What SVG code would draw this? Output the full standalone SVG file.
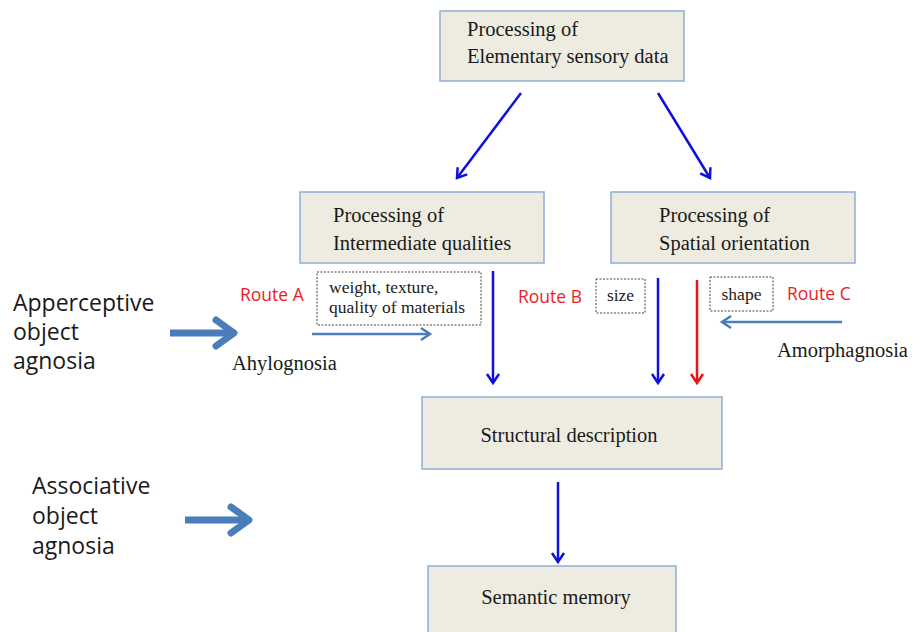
<svg xmlns="http://www.w3.org/2000/svg" width="914" height="632" viewBox="0 0 914 632">
<style>
.box{fill:#eeece1;stroke:#8eaed8;stroke-width:1.5}
.bt{font-family:"Liberation Serif","Times New Roman",serif;font-size:20.5px;fill:#1a1a1a}
.st{font-family:"Liberation Serif","Times New Roman",serif;font-size:20.5px;fill:#1a1a1a}
.sm{font-family:"Liberation Serif","Times New Roman",serif;font-size:17.5px;fill:#1a1a1a}
.big{font-family:"Open Sans","Liberation Sans",Arial,sans-serif;font-size:23px;fill:#1a1a1a}
.route{font-family:"Open Sans","Liberation Sans",Arial,sans-serif;font-size:17.5px;fill:#ee1c25}
.dash{fill:#ffffff;stroke:#444;stroke-width:1;stroke-dasharray:2 1.5}
.blue{stroke:#1010dd;stroke-width:2.5;fill:none}
.red{stroke:#ee1111;stroke-width:2.5;fill:none}
.steel{stroke:#4a7ebb;stroke-width:2.5;fill:none}
.thick{stroke:#4a7ebb;stroke-width:7;fill:none}
</style>
<defs>
<marker id="hb" markerUnits="userSpaceOnUse" markerWidth="16" markerHeight="16" refX="12" refY="8" orient="auto" viewBox="0 0 16 16">
<path d="M3,2 L12,8 L3,14" fill="none" stroke="#1010dd" stroke-width="2.5"/>
</marker>
<marker id="hr" markerUnits="userSpaceOnUse" markerWidth="16" markerHeight="16" refX="12" refY="8" orient="auto" viewBox="0 0 16 16">
<path d="M3,2 L12,8 L3,14" fill="none" stroke="#ee1111" stroke-width="2.5"/>
</marker>
<marker id="hs" markerUnits="userSpaceOnUse" markerWidth="16" markerHeight="16" refX="12" refY="8" orient="auto" viewBox="0 0 16 16">
<path d="M3,2 L12,8 L3,14" fill="none" stroke="#4a7ebb" stroke-width="2.5"/>
</marker>
<marker id="ht" markerUnits="userSpaceOnUse" markerWidth="34" markerHeight="34" refX="26" refY="17" orient="auto" viewBox="0 0 34 34">
<path d="M7,4 L25,17 L7,30" fill="none" stroke="#4a7ebb" stroke-width="7" stroke-linecap="round" stroke-linejoin="round"/>
</marker>
</defs>

<g id="connectors">
<line class="blue" x1="521" y1="93" x2="457" y2="178" marker-end="url(#hb)"/>
<line class="blue" x1="658" y1="93" x2="710" y2="178" marker-end="url(#hb)"/>
<line class="blue" x1="493" y1="271" x2="493" y2="383" marker-end="url(#hb)"/>
<line class="blue" x1="658" y1="278" x2="658" y2="383" marker-end="url(#hb)"/>
<line class="red" x1="697" y1="280" x2="697" y2="383" marker-end="url(#hr)"/>
<line class="blue" x1="558" y1="482" x2="558" y2="562" marker-end="url(#hb)"/>
<line class="steel" x1="312" y1="334" x2="430" y2="334" marker-end="url(#hs)"/>
<line class="steel" x1="842" y1="322" x2="722" y2="322" marker-end="url(#hs)"/>
<line class="thick" x1="170" y1="333" x2="235" y2="333" marker-end="url(#ht)"/>
<line class="thick" x1="185" y1="520" x2="250" y2="520" marker-end="url(#ht)"/>
</g>

<g id="node-elementary">
<rect class="box" x="440" y="11" width="244" height="70"/>
<text class="bt" x="467" y="36">Processing of</text>
<text class="bt" x="467" y="63">Elementary sensory data</text>
</g>
<g id="node-intermediate">
<rect class="box" x="300" y="192" width="244" height="71"/>
<text class="bt" x="333" y="222">Processing of</text>
<text class="bt" x="333" y="250">Intermediate qualities</text>
</g>
<g id="node-spatial">
<rect class="box" x="611" y="192" width="244" height="71"/>
<text class="bt" x="659" y="222">Processing of</text>
<text class="bt" x="659" y="250">Spatial orientation</text>
</g>
<g id="node-structural">
<rect class="box" x="422" y="397" width="300" height="72"/>
<text class="st" x="569" y="442" text-anchor="middle">Structural description</text>
</g>
<g id="node-semantic">
<rect class="box" x="428" y="566" width="248" height="70"/>
<text class="st" x="556" y="604" text-anchor="middle">Semantic memory</text>
</g>

<g id="label-materials">
<rect class="dash" x="317" y="272" width="164" height="53"/>
<text class="sm" x="329" y="293">weight, texture,</text>
<text class="sm" x="329" y="313">quality of materials</text>
</g>
<g id="label-size">
<rect class="dash" x="596" y="279" width="49" height="34"/>
<text class="sm" x="620.5" y="301" text-anchor="middle" font-size="16">size</text>
</g>
<g id="label-shape">
<rect class="dash" x="710" y="277" width="63" height="34"/>
<text class="sm" x="741.5" y="300" text-anchor="middle" font-size="16.5">shape</text>
</g>

<g id="routes">
<text class="route" x="240" y="301">Route A</text>
<text class="route" x="518" y="303">Route B</text>
<text class="route" x="787" y="300">Route C</text>
</g>

<g id="labels">
<text class="st" x="232" y="370">Ahylognosia</text>
<text class="st" x="777" y="357">Amorphagnosia</text>
<text class="big" x="13" y="311">Apperceptive</text>
<text class="big" x="13" y="340">object</text>
<text class="big" x="13" y="369">agnosia</text>
<text class="big" x="32" y="494">Associative</text>
<text class="big" x="32" y="524">object</text>
<text class="big" x="32" y="554">agnosia</text>
</g>
</svg>
